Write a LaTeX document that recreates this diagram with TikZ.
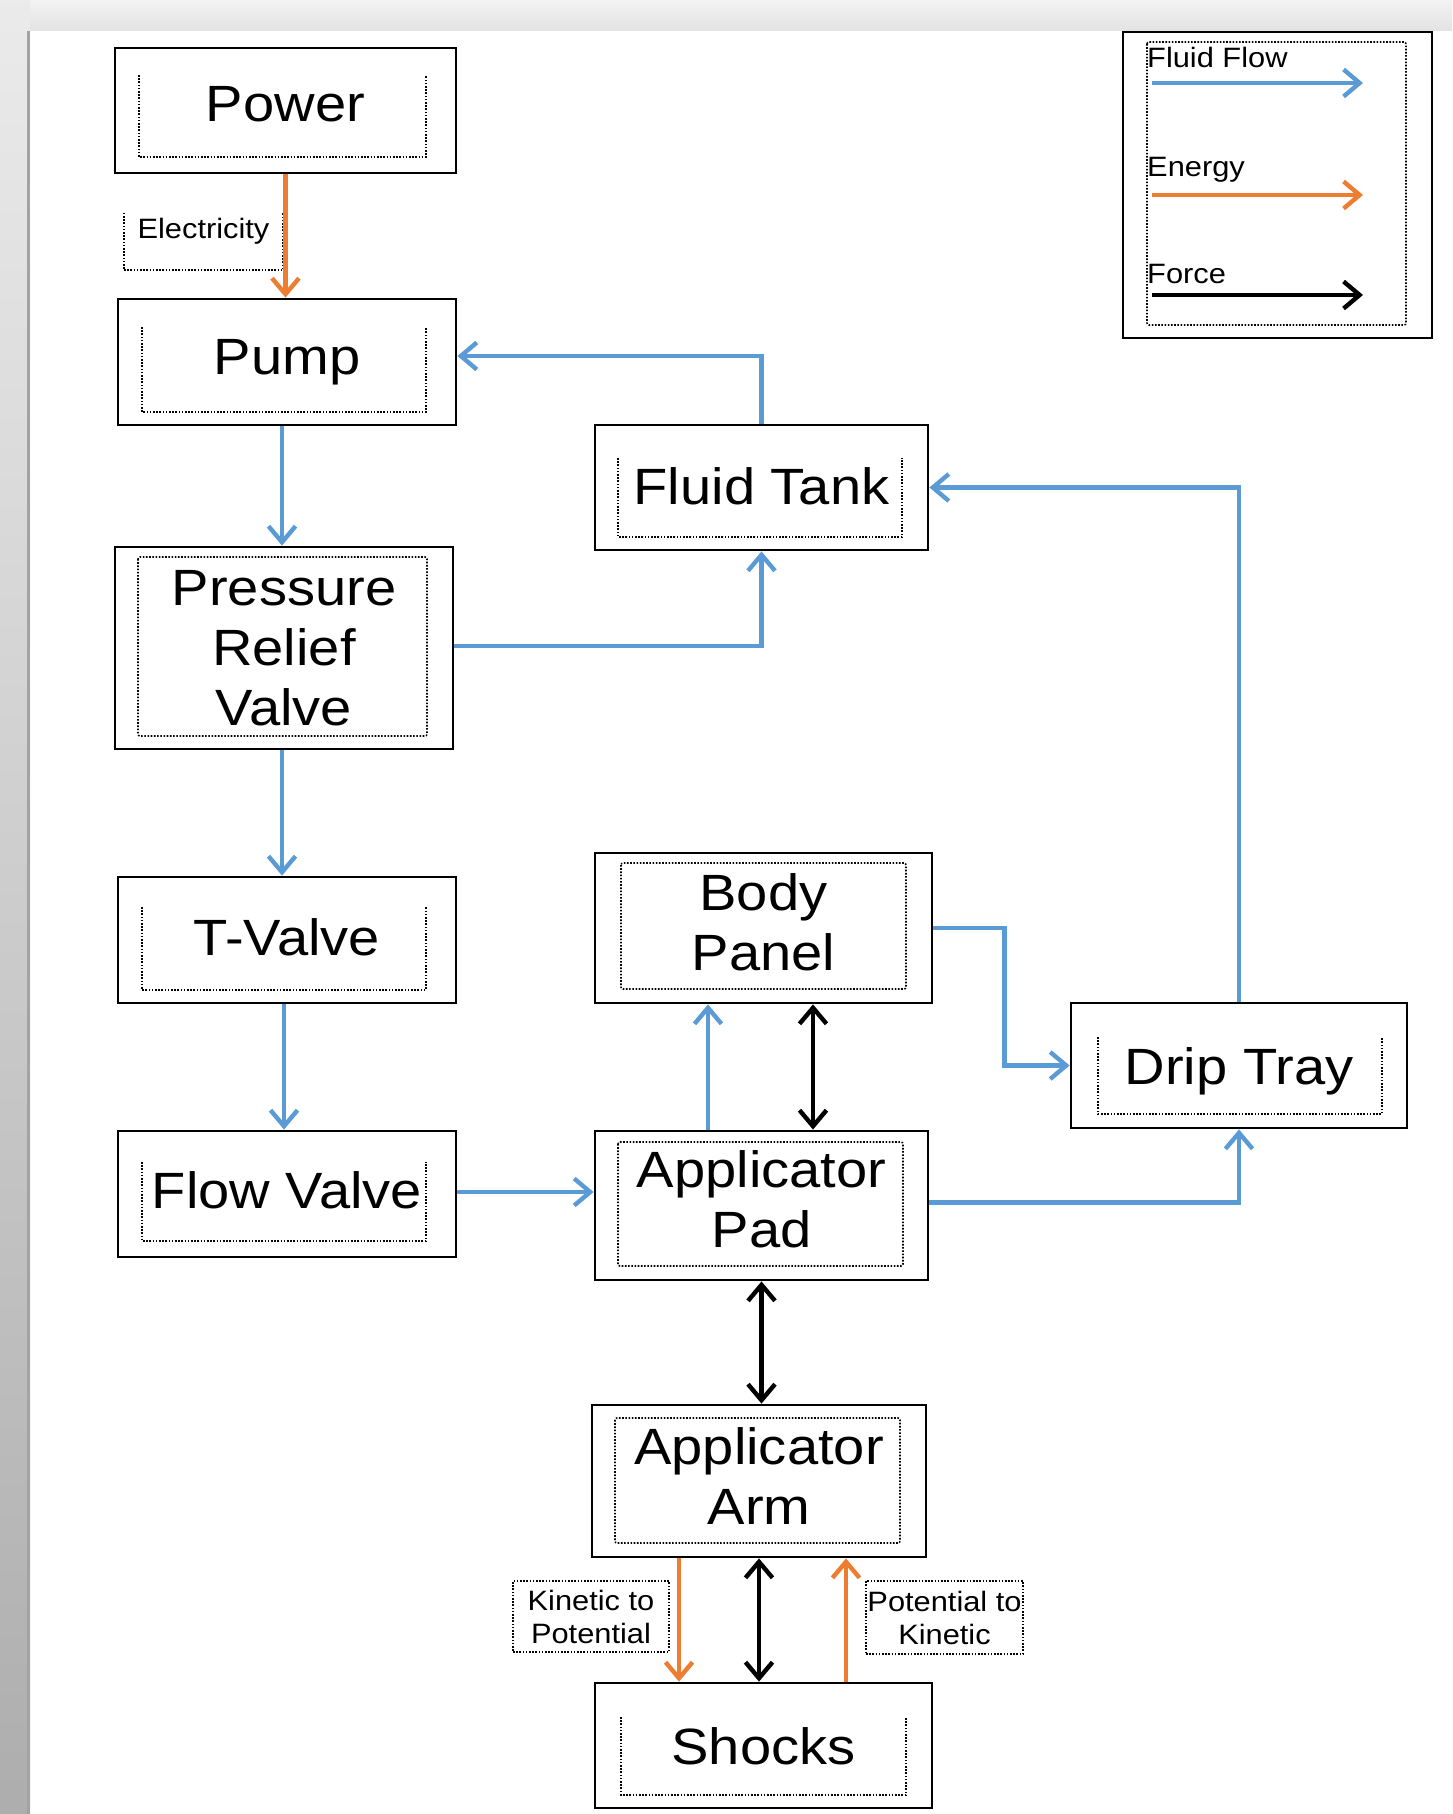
\documentclass[tikz,border=0pt]{standalone}
\usepackage{fontspec}
\setmainfont{Liberation Sans}[FakeStretch=1.1]
\usepackage{tikz}
\usetikzlibrary{arrows.meta}
\definecolor{fluidblue}{HTML}{5B9BD5}
\definecolor{energyorange}{HTML}{ED7D31}
\newcommand{\bigtext}{\fontsize{51}{60}\selectfont}
\newcommand{\smalltext}{\fontsize{28}{33}\selectfont}
\newcommand{\lowstrut}[1]{\rule[-#1]{0pt}{#1}}
\tikzset {
  % outer boxes of the components
  block/.style = {draw, rectangle, line width=2.8pt, inner sep=0pt, font=\bigtext, align=center},
  oneline/.style = {text height=37pt, text depth=#1},
  oneline/.default = 0pt,
  % dotted text frames inside the boxes
  dotbox/.style = {line width=1.6pt, dash pattern=on 1.6pt off 1.6pt},
  note/.style = {font=\smalltext, inner sep=0pt, align=center},
  % the three kinds of arrow, as in the legend
  flow/.style = {fluidblue, line width=4.4pt},
  energy/.style = {energyorange, line width=4.4pt},
  force/.style = {black, line width=4.4pt},
}

\begin{document}
\begin{tikzpicture}[x=1pt, y=-1pt, >={Straight Barb[length=16pt,width=27pt]}]
  \useasboundingbox (0,0) rectangle (1452,1814);
  \shade[top color=black!5, bottom color=black!11] (0,0) rectangle (1452,31);
  \shade[top color=black!8, bottom color=black!32] (0,0) rectangle (30,1814);
  \fill[black!36] (27,31) rectangle (30,1814);

  \node[block, oneline=14pt, minimum width=341pt, minimum height=125pt] (power) at (285.5,110.5) {Power};
  \node[block, oneline=13pt, minimum width=338pt, minimum height=126pt] (pump) at (287,362) {Pump};
  \node[block, minimum width=338pt, minimum height=202pt] (prv) at (284,648) {Pressure\\Relief\\Valve};
  \node[block, oneline=7pt, minimum width=338pt, minimum height=126pt] (tvalve) at (287,940) {T-Valve};
  \node[block, oneline=8pt, minimum width=338pt, minimum height=126pt] (flowv) at (287,1194) {Flow Valve};

  \node[block, oneline=3pt, minimum width=333pt, minimum height=125pt] (tank) at (761.5,487.5) {Fluid Tank};
  \node[block, minimum width=337pt, minimum height=150pt] (panel) at (763.5,928) {Body\\Panel\lowstrut{12pt}};
  \node[block, minimum width=333pt, minimum height=149pt] (pad) at (761.5,1205.5) {Applicator\\Pad\lowstrut{13pt}};
  \node[block, minimum width=334pt, minimum height=152pt] (arm) at (759,1481) {Applicator\\Arm\lowstrut{9pt}};
  \node[block, oneline, minimum width=337pt, minimum height=125pt] (shocks) at (763.5,1745.5) {Shocks};
  \node[block, oneline, minimum width=336pt, minimum height=125pt] (drip) at (1239,1065.5) {Drip Tray};
  \node[block, minimum width=309pt, minimum height=306pt] (legend) at (1277.5,185) {};

  % dotted frames, open at the top
  \foreach \xa/\xb/\ya/\yb in {139/426/75/157, 142/426/327/412, 142/426/907/990, 142/426/1162/1241,
                                618/902/458/537, 621/906/1717/1795, 1098/1382/1037/1114}
    \draw[dotbox] (\xa,\ya) -- (\xa,\yb) -- (\xb,\yb) -- (\xb,\ya);
  % dotted frames, closed
  \foreach \xa/\xb/\ya/\yb in {138/427/557/736, 621/906/863/989, 618/903/1142/1266,
                                615/900/1418/1543, 1147/1406/42/325}
    \draw[dotbox, rounded corners=2pt] (\xa,\ya) rectangle (\xb,\yb);

  \node[note, minimum width=159pt, minimum height=57pt, text height=20pt, text depth=27pt] (elec) at (203.5,241.5) {Electricity};
  \draw[dotbox] (elec.north west) -- (elec.south west) -- (elec.south east) -- (elec.north east);
  \node[note, draw, dotbox, minimum width=156pt, minimum height=71pt] (kinpot) at (591,1616.5) {Kinetic to\\Potential};
  \node[note, draw, dotbox, minimum width=157pt, minimum height=73pt] (potkin) at (944.5,1617.5) {Potential to\\Kinetic};

  \node[note, anchor=base west] (lgflow) at (1147,68) {Fluid Flow};
  \node[note, anchor=base west] (lgenergy) at (1147,177) {Energy};
  \node[note, anchor=base west] (lgforce) at (1147,283) {Force};
  \coordinate (lf1) at (1152,83);
  \coordinate (lf2) at (1363,83);
  \coordinate (le1) at (1152,195);
  \coordinate (le2) at (1363,195);
  \coordinate (lk1) at (1152,295);
  \coordinate (lk2) at (1363,295);
  \draw[flow, ->] (lf1) -- (lf2);
  \draw[energy, ->] (le1) -- (le2);
  \draw[force, ->] (lk1) -- (lk2);

  \draw[energy, ->] (power.south) -- (power.south |- pump.north);
  \draw[flow, ->] ([xshift=-5pt]pump.south) -- ([xshift=-5pt]pump.south |- prv.north);
  \draw[flow, ->] ([xshift=-2pt]prv.south) -- ([xshift=-2pt]prv.south |- tvalve.north);
  \draw[flow, ->] ([xshift=-3pt]tvalve.south) -- ([xshift=-3pt]tvalve.south |- flowv.north);
  \draw[flow, ->] ([yshift=2pt]flowv.east) -- ([yshift=2pt]flowv.east -| pad.west);

  \draw[flow, ->] (tank.north) |- ([yshift=6pt]pump.east);
  \draw[flow, ->] ([yshift=2pt]prv.east) -| (tank.south);
  \draw[flow, ->] (drip.north) |- (tank.east);
  \draw[flow, ->] (panel.east) -- ++(71,0) |- (drip.west);
  \draw[flow, ->] ([yshift=3pt]pad.east) -| (drip.south);

  \draw[flow, ->] ([xshift=-53.5pt]pad.north) -- ([xshift=-53.5pt]pad.north |- panel.south);
  \draw[force, <->] ([xshift=51.5pt]pad.north) -- ([xshift=51.5pt]pad.north |- panel.south);
  \draw[force, <->] (pad.south) -- (pad.south |- arm.north);

  \draw[energy, ->] ([xshift=-80pt]arm.south) -- ([xshift=-80pt]arm.south |- shocks.north);
  \draw[force, <->] (arm.south) -- (arm.south |- shocks.north);
  \draw[energy, ->] ([xshift=82.5pt]shocks.north) -- ([xshift=82.5pt]shocks.north |- arm.south);
\end{tikzpicture}
\end{document}
